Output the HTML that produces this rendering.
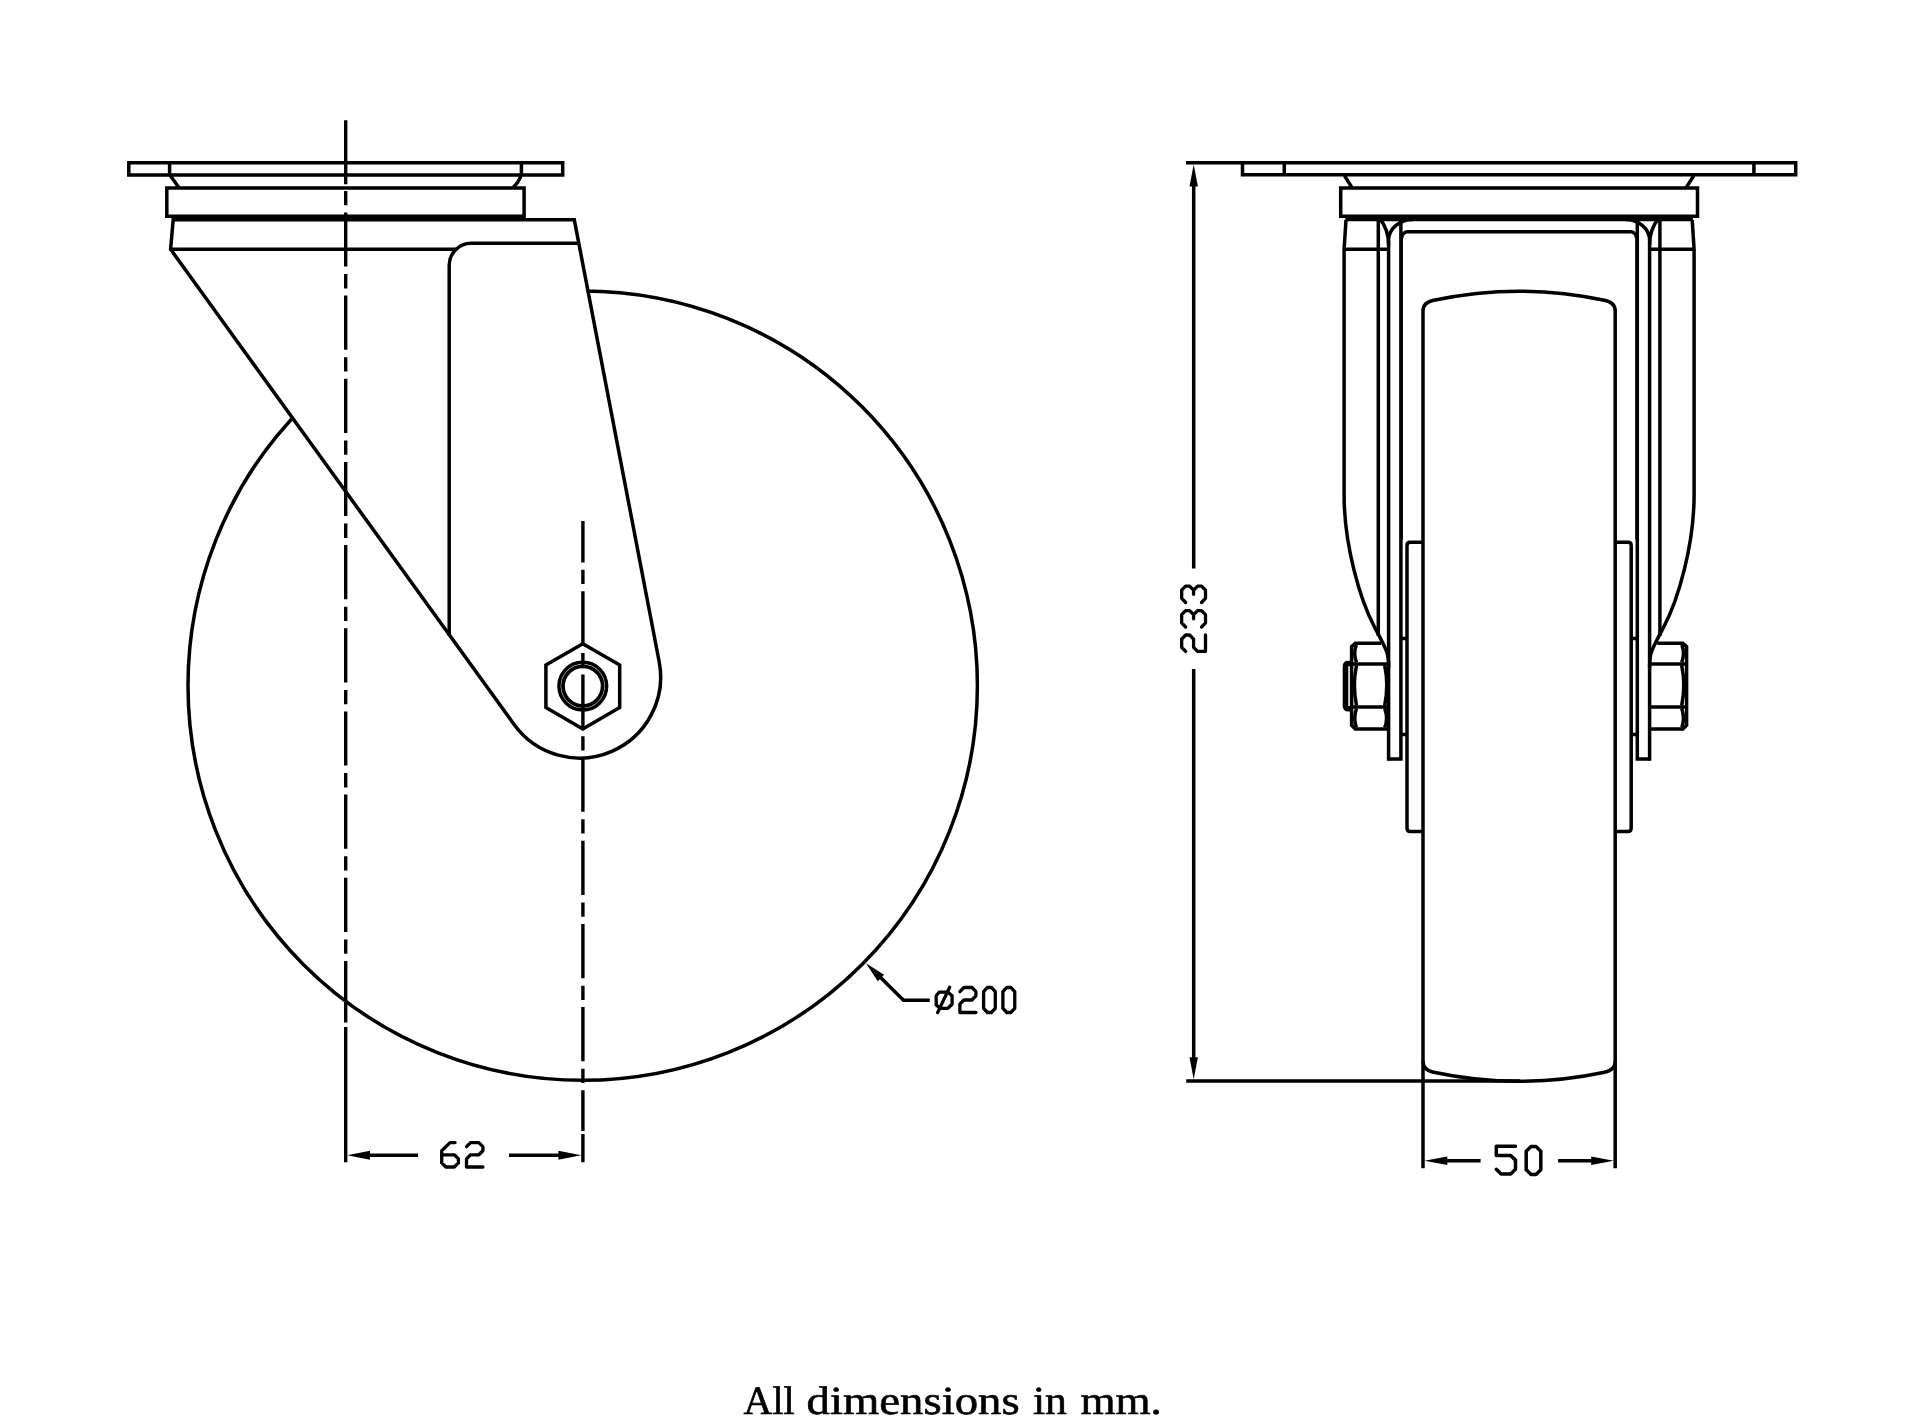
<!DOCTYPE html>
<html><head><meta charset="utf-8"><title>Castor dimensions</title>
<style>
html,body{margin:0;padding:0;background:#fff;}
body{width:1920px;height:1425px;position:relative;overflow:hidden;font-family:"Liberation Serif",serif;}
svg{position:absolute;left:0;top:0;display:block;}
</style></head>
<body>
<svg width="1920" height="1425" viewBox="0 0 1920 1425">
<g fill="none" stroke="#000" stroke-width="3.5" stroke-linejoin="miter" stroke-linecap="butt">
<circle cx="582.7" cy="685.6" r="394.7"/>
<path d="M173.2 219.8 L574.3 219.8 L659.18 661.78 A80.95 80.95 0 0 1 514.09 724.49 L170.6 249.3 Z" fill="#fff"/>
<path d="M171 249.2H456"/>
<path d="M449.2 635.5V265.3A22 22 0 0 1 471.2 243.3H578.8"/>
<path d="M128.8 162.7H562.7V175H128.8Z"/>
<path d="M169.6 162.7V175M521.4 162.7V175"/>
<path d="M170.3 175.5L178.8 187.5M521 175.5Q519 182 513 187.5"/>
<path d="M172.5 218H524.1" stroke-width="2.4"/>
<path d="M166.8 187.9H524.1V216.2H166.8Z"/>
</g>
<g fill="none" stroke="#000" stroke-width="3.5" stroke-linejoin="miter">
<path d="M582.80 643.70 L619.69 665.00 L619.69 707.60 L582.80 728.90 L545.91 707.60 L545.91 665.00Z"/>
<circle cx="582.8" cy="686.0999999999999" r="23.85" stroke-width="3.5"/>
<circle cx="582.8" cy="686.0999999999999" r="19.8" stroke-width="3.7"/>
</g>
<g fill="none" stroke="#000" stroke-width="3.4" stroke-linecap="butt">
<path d="M345.7 120.2V184.2M345.7 190.9V205.2M345.7 212.4V266.6M345.7 274.1V288.4M345.7 295.6V349.8M345.7 357.3V371.6M345.7 378.7V432.9M345.7 440.4V454.7M345.7 461.9V516.1M345.7 523.6V537.9M345.7 545.1V599.3M345.7 606.8V621.1M345.7 628.2V682.5M345.7 690.0V704.2M345.7 711.4V765.6M345.7 773.1V787.4M345.7 794.6V848.8M345.7 856.3V870.6M345.7 877.8V932.0M345.7 939.5V953.8M345.7 960.9V1022.5"/>
<path d="M582.9 521.1V562.4M582.9 569.8V584.1M582.9 591.3V645.5M582.9 653.0V667.3M582.9 674.5V728.7M582.9 736.2V750.5M582.9 757.6V811.8M582.9 819.3V833.6M582.9 840.8V895.0M582.9 902.5V916.8M582.9 924.0V978.2M582.9 985.7V1000.0M582.9 1007.1V1061.3M582.9 1068.8V1083.1M582.9 1090.3V1131.0"/>
<path d="M345.7 1027V1162.2M582.9 1134V1162.2"/>
<path d="M366 1155.2H418.1M509 1155.2H562"/>
</g>
<g fill="#000" stroke="none">
<path d="M347.2 1155.2L370 1150.7V1159.7Z"/>
<path d="M581.4 1155.2L558.4 1150.7V1159.7Z"/>
</g>
<g fill="none" stroke="#000" stroke-width="3.3" stroke-linejoin="round" stroke-linecap="round">
<title>62</title>
<path d="M455.08 1142.58 L450.06 1142.58 L441.70 1150.72 L441.70 1162.93 L445.88 1167.00 L454.24 1167.00 L458.42 1162.93 L458.42 1158.86 L454.24 1154.79 L441.70 1154.79"/>
<path d="M466.50 1146.65 L470.60 1142.58 L478.80 1142.58 L482.90 1146.65 L482.90 1150.72 L478.80 1154.79 L470.60 1154.79 L466.50 1158.86 L466.50 1167.00 L482.90 1167.00"/>
</g>
<g fill="none" stroke="#000" stroke-width="3.5" stroke-linejoin="miter">
<path d="M878 975L903.5 1000.3H929.8"/>
</g>
<path fill="#000" d="M866.0 963.2L877.76 981.17L884.09 974.77Z"/>
<g fill="none" stroke="#000" stroke-width="3.3" stroke-linejoin="round" stroke-linecap="round">
<title>ø200</title>
<path d="M936.2 995.8V1005L940.1 1008.3H947.9L952.1 1004.2V995.8L947.9 992.2H939.1ZM937.6 1012.6L949.7 987.3"/>
<path d="M959.90 991.65 L963.90 987.48 L971.90 987.48 L975.90 991.65 L975.90 995.82 L971.90 999.99 L963.90 999.99 L959.90 1004.16 L959.90 1012.50 L975.90 1012.50"/>
<path d="M983.60 1008.33 L983.60 991.65 L987.50 987.48 L991.40 987.48 L995.30 991.65 L995.30 1008.33 L991.40 1012.50 L987.50 1012.50 L983.60 1008.33"/>
<path d="M1002.90 1008.33 L1002.90 991.65 L1006.85 987.48 L1010.80 987.48 L1014.75 991.65 L1014.75 1008.33 L1010.80 1012.50 L1006.85 1012.50 L1002.90 1008.33"/>
</g>
<g fill="none" stroke="#000" stroke-width="3.5" stroke-linejoin="miter" stroke-linecap="butt">
<path d="M1186 162.8H1795.7V174.8H1242.5V162.8"/>
<path d="M1284.3 162.8V174.8M1753.9 162.8V174.8"/>
<path d="M1344.5 175.8L1352 187.6M1693.7 175.8L1686.2 187.6"/>
<path d="M1340.7 188.1H1697.5V216.2H1340.7Z"/>
<path d="M1345.5 219.4H1692.7"/>
<path d="M1345.5 218H1692.7" stroke-width="2.4"/>
<path d="M1346.0 219.9L1344.1 249.3V495C1344.1 545 1360.0 600 1374.7 627.4S1388.5 655 1388.6 668"/>
<path d="M1344.1 249.3H1388.6"/>
<path d="M1378.3 220V636"/>
<path d="M1388.6 760.75V240"/>
<path d="M1388.6 244.8A42 42 0 0 0 1379.5 218.2"/>
<path d="M1388.6 240.3A24 20.7 0 0 1 1412.6 219.6"/>
<path d="M1400.9 220V759H1388.6"/>
<path d="M1401.6 237V540" stroke-width="2.6"/>
<path d="M1400.9 638.5H1407.0M1400.9 734.5H1407.0"/>
<path d="M1423.0 542.2H1410.0Q1407.0 542.2 1407.0 545.5V828Q1407.0 831.6 1410.5 831.6H1423.0"/>
<path d="M1692.2 219.9L1694.1 249.3V495C1694.1 545 1678.2 600 1663.5 627.4S1649.7 655 1649.6 668"/>
<path d="M1694.1 249.3H1649.6"/>
<path d="M1659.9 220V636"/>
<path d="M1649.6 760.75V240"/>
<path d="M1649.6 244.8A42 42 0 0 1 1658.7 218.2"/>
<path d="M1649.6 240.3A24 20.7 0 0 0 1625.6 219.6"/>
<path d="M1637.3 220V759H1649.6"/>
<path d="M1636.6 237V540" stroke-width="2.6"/>
<path d="M1637.3 638.5H1631.2M1637.3 734.5H1631.2"/>
<path d="M1615.2 542.2H1628.2Q1631.2 542.2 1631.2 545.5V828Q1631.2 831.6 1627.7 831.6H1615.2"/>
<path d="M1401.8 238A6 6 0 0 1 1407.8 231.8H1630.4A6 6 0 0 1 1636.4 238"/>
<path d="M1423.0 686V311Q1423.0 302.5 1433.75 300.3A408.7 408.7 0 0 1 1604.45 300.3Q1615.1999999999998 302.5 1615.1999999999998 311V686V1061.5Q1615.1999999999998 1070 1604.45 1072.2A408.7 408.7 0 0 1 1433.75 1072.2Q1423.0 1070 1423.0 1061.5Z"/>
<path d="M1423.0 1061V1168.3M1615.1999999999998 1061V1168.3"/>
<path d="M1186.2 1080.9H1520"/>
<path d="M1193.7 183V568.4M1193.7 669.1V1060"/>
<path d="M1444 1160.7H1480.6M1558.1 1160.7H1594"/>
</g>
<g fill="#000" stroke="none">
<path d="M1193.7 164.5L1189.5 186.5H1197.9Z"/>
<path d="M1193.7 1079.3L1189.5 1057.2H1197.9Z"/>
<path d="M1424.5 1160.7L1447.3 1156.4V1165Z"/>
<path d="M1613.6999999999998 1160.7L1591.2 1156.4V1165Z"/>
</g>
<g fill="none" stroke="#000" stroke-width="3.5" stroke-linejoin="miter">
<path d="M1381.0 643.3H1355.3L1351.6 646.5V725.3L1355.3 729H1388.6"/>
<path d="M1351.6 663.9H1387.0M1351.6 707H1388.0"/>
<path d="M1356.3 644.8Q1353.1 653.5 1356.5 662.4M1356.5 665.4Q1352.3 685.4 1356.5 705.5M1356.5 708.5Q1353.1 718 1356.3 727.5"/>
<path d="M1657.2 643.3H1682.9L1686.6 646.5V725.3L1682.9 729H1649.6"/>
<path d="M1686.6 663.9H1651.2M1686.6 707H1650.2"/>
<path d="M1681.9 644.8Q1685.1 653.5 1681.7 662.4M1681.7 665.4Q1685.9 685.4 1681.7 705.5M1681.7 708.5Q1685.1 718 1681.9 727.5"/>
<path d="M1384.7 665.4Q1388.9 685.4 1384.7 705.5M1384.7 708.5Q1388.5 718 1384.7 727.5"/>
<path d="M1351.6 663.5H1348.3Q1345.5 663.5 1345.5 666.5V705.8Q1345.5 708.8 1348.3 708.8H1351.6" stroke-width="5.6"/>
</g>
<g fill="none" stroke="#000" stroke-width="3.3" stroke-linejoin="round" stroke-linecap="round">
<title>233</title>
<path d="M1185.65 651.40 L1181.68 647.30 L1181.68 639.10 L1185.65 635.00 L1189.62 635.00 L1193.59 639.10 L1193.59 647.30 L1197.56 651.40 L1205.50 651.40 L1205.50 635.00"/>
<path d="M1185.65 627.00 L1181.68 622.90 L1181.68 614.70 L1185.65 610.60 L1189.62 610.60 L1193.59 614.70 L1193.59 618.80M1193.59 614.70 L1197.56 610.60 L1201.53 610.60 L1205.50 614.70 L1205.50 622.90 L1201.53 627.00"/>
<path d="M1185.65 602.50 L1181.68 598.40 L1181.68 590.20 L1185.65 586.10 L1189.62 586.10 L1193.59 590.20 L1193.59 594.30M1193.59 590.20 L1197.56 586.10 L1201.53 586.10 L1205.50 590.20 L1205.50 598.40 L1201.53 602.50"/>
</g>
<g fill="none" stroke="#000" stroke-width="3.5" stroke-linejoin="round" stroke-linecap="round">
<title>50</title>
<path d="M1515.50 1146.36 L1496.30 1146.36 L1496.30 1155.54 L1510.70 1155.54 L1515.50 1160.13 L1515.50 1169.31 L1510.70 1173.90 L1501.10 1173.90 L1496.30 1169.31"/>
<path d="M1526.20 1169.85 L1526.20 1151.25 L1531.07 1146.60 L1535.94 1146.60 L1540.81 1151.25 L1540.81 1169.85 L1535.94 1174.50 L1531.07 1174.50 L1526.20 1169.85"/>
</g>
<g font-family="Liberation Serif, serif" font-size="40" fill="#000" stroke="#000" stroke-width="0.6" text-rendering="geometricPrecision" style="filter:grayscale(1)">
<text x="743.6" y="1414.3" textLength="51" lengthAdjust="spacingAndGlyphs">All</text>
<text x="806.6" y="1414.3" textLength="213" lengthAdjust="spacingAndGlyphs">dimensions</text>
<text x="1032.9" y="1414.3" textLength="34" lengthAdjust="spacingAndGlyphs">in</text>
<text x="1080.4" y="1414.3" textLength="81.5" lengthAdjust="spacingAndGlyphs">mm.</text>
</g>
</svg>
</body></html>
